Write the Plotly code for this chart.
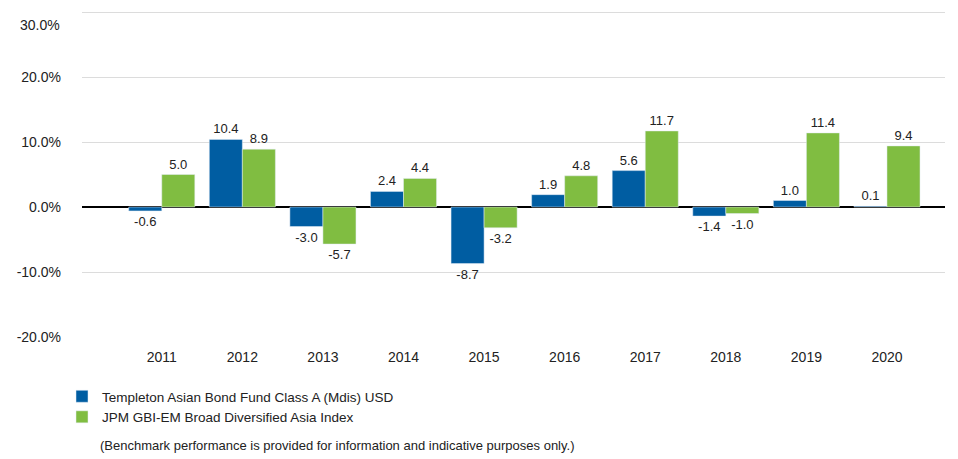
import plotly.graph_objects as go

years = ["2011", "2012", "2013", "2014", "2015", "2016", "2017", "2018", "2019", "2020"]
fund = [-0.6, 10.4, -3.0, 2.4, -8.7, 1.9, 5.6, -1.4, 1.0, 0.1]
index = [5.0, 8.9, -5.7, 4.4, -3.2, 4.8, 11.7, -1.0, 11.4, 9.4]
fund_name = "Templeton Asian Bond Fund Class A (Mdis) USD"
index_name = "JPM GBI-EM Broad Diversified Asia Index"
y_ticks = [-20, -10, 0, 10, 20, 30]
y_tick_labels = ["-20.0%", "-10.0%", "0.0%", "10.0%", "20.0%", "30.0%"]
footnote = "(Benchmark performance is provided for information and indicative purposes only.)"

FONT = "Liberation Sans, Arial, sans-serif"
OFF = 8  # default page body margin
W, H = 958 - OFF, 459 - OFF
L, R, T, B = 82 - OFF, 13, 0, 122
plot_h = H - T - B
Y_TOP = 30 + 4 / 6.5

# top tick label sits inside the chart (as in the reference), drawn as annotation
shown_ticktext = y_tick_labels[:-1] + [""]

fig = go.Figure()
for name, vals, col in [(fund_name, fund, "#005DA2"), (index_name, index, "#80BD41")]:
    fig.add_trace(go.Bar(x=years, y=vals, name=name, marker_color=col,
                         texttemplate="%{y:.1f}", textposition="outside", cliponaxis=False,
                         constraintext="none",
                         textfont=dict(family=FONT, size=13, color="#222222")))

fig.update_layout(
    width=W, height=H,
    margin=dict(l=L, r=R, t=T, b=B, pad=0, autoexpand=False),
    paper_bgcolor="white", plot_bgcolor="white",
    barmode="group", bargap=0.18, bargroupgap=0,
    font=dict(family=FONT, size=14, color="#222222"),
    showlegend=True,
    legend=dict(orientation="v", xref="container", yref="container",
                x=54 / W, y=1 - 373 / H, xanchor="left", yanchor="top",
                font=dict(family=FONT, size=13.5, color="#222222"),
                tracegroupgap=0, bgcolor="rgba(0,0,0,0)"),
    xaxis=dict(type="category", range=[-0.99, 9.72], showgrid=False, showline=False,
               ticks="", automargin=False, tickangle=0, ticklabelstandoff=10,
               ticklabeloverflow="allow", tickfont=dict(size=14)),
    yaxis=dict(range=[-20, Y_TOP], tickvals=y_ticks, ticktext=shown_ticktext,
               showgrid=True, gridcolor="#DCDCDC", gridwidth=1,
               zeroline=True, zerolinecolor="#000000", zerolinewidth=1.5,
               showline=False, ticks="", automargin=False, ticklabelstandoff=20,
               ticklabeloverflow="allow", tickfont=dict(size=14)),
    annotations=[
        dict(text=footnote, xref="paper", yref="paper",
             x=(98 - OFF - L) / (W - L - R), y=(T + plot_h - (445 - OFF)) / plot_h,
             xanchor="left", yanchor="middle", showarrow=False,
             font=dict(family=FONT, size=13, color="#222222")),
        dict(text=y_tick_labels[-1], xref="paper", yref="paper",
             x=0, xshift=-20, y=(T + plot_h - (25 - OFF)) / plot_h,
             xanchor="right", yanchor="middle", showarrow=False,
             font=dict(family=FONT, size=14, color="#222222")),
    ],
)

fig.write_html("out.html")
